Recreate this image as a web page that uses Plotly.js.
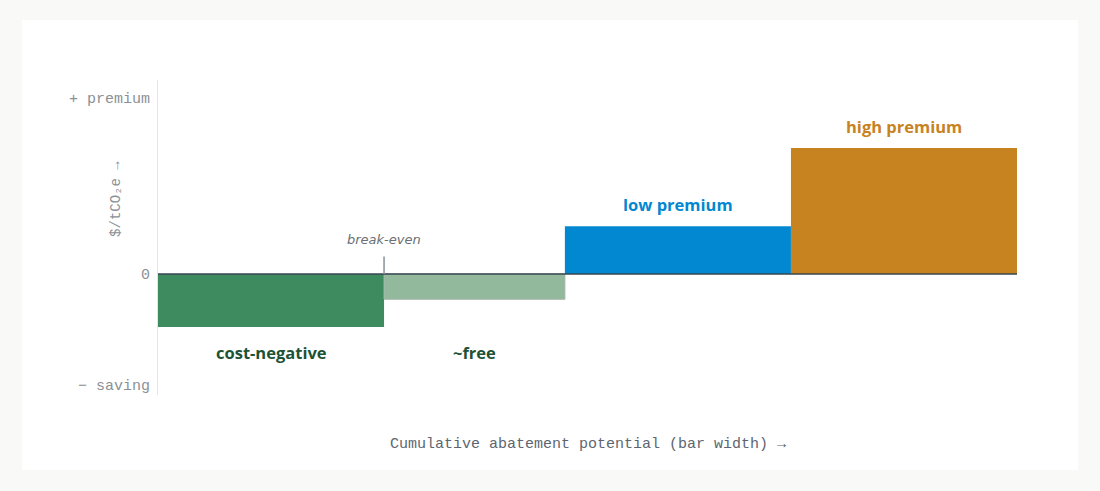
<!DOCTYPE html>
<html>
<head>
<meta charset="utf-8">
<script src="https://cdn.plot.ly/plotly-3.0.1.min.js"></script>
<style>
  html, body { margin: 0; padding: 0; background: #f9f9f7; }
  #card { position: absolute; left: 22px; top: 20px; width: 1056px; height: 450px; background: #ffffff; }
  #chart { position: absolute; left: 0; top: 0; width: 1100px; height: 491px; }
</style>
</head>
<body>
<div id="card"></div>
<div id="chart"></div>
<script>
// abatement cost curve: bar width = potential, height = cost
const categories = ['cost-negative', '~free', 'low premium', 'high premium'];
const widths = [2.5, 2.0, 2.5, 2.5];
const costs = [-21, -10, 19, 50];
const tickVals = [-44, 0, 70];
const tickText = ['− saving', '0', '+ premium'];

const barColors = ['#3e8b5f', '#93b99c', '#0288d1', '#c7831f'];
const labelColors = ['#1d5236', '#1d5236', '#0288d1', '#c7831f'];
const mono = 'Liberation Mono, DejaVu Sans Mono, monospace';
const sans = 'Open Sans, Noto Sans, sans-serif';

// bar centres from cumulative widths
const centers = [];
let acc = 0;
widths.forEach(w => { centers.push(acc + w / 2); acc += w; });
const total = acc;

const data = [{
  type: 'bar',
  x: centers,
  y: costs,
  width: widths,
  marker: {
    color: barColors,
    line: { color: ['#2f6f4a', '#a3b5a8', '#0288d1', '#c7831f'], width: [0, 1, 0, 0] }
  },
  hoverinfo: 'skip'
}];

const annotations = categories.map((c, i) => {
  const neg = costs[i] < 0;
  return {
    x: centers[i], y: neg ? -31 : costs[i], xref: 'x', yref: 'y',
    text: '<b>' + c + '</b>', showarrow: false,
    yanchor: neg ? 'middle' : 'bottom', yshift: neg ? 0 : 8,
    font: { family: sans, size: 16.5, color: labelColors[i] }
  };
});

annotations.push({
  x: widths[0], y: 0, xref: 'x', yref: 'y', text: '<i>break-even</i>',
  showarrow: false, yanchor: 'middle', yshift: 35,
  font: { family: 'DejaVu Sans, sans-serif', size: 13, color: '#6b7075' }
});
annotations.push({
  x: -0.06, y: 30, xref: 'paper', yref: 'y', text: '$/tCO₂e →',
  showarrow: false, textangle: -90,
  font: { family: mono, size: 14, color: '#8b9096' }
});
annotations.push({
  x: 0.5, y: -0.158, xref: 'paper', yref: 'paper',
  text: 'Cumulative abatement potential (bar width) →',
  showarrow: false, yanchor: 'middle',
  font: { family: mono, size: 15, color: '#5d6670' }
});

const layout = {
  width: 1100,
  height: 491,
  margin: { l: 158, r: 83, t: 80, b: 96, pad: 0 },
  paper_bgcolor: 'rgba(0,0,0,0)',
  plot_bgcolor: 'rgba(0,0,0,0)',
  showlegend: false,
  bargap: 0,
  xaxis: {
    range: [0, total], showgrid: false, zeroline: false, showline: false,
    showticklabels: false, ticks: '', fixedrange: true
  },
  yaxis: {
    range: [-48, 77], showgrid: false,
    zeroline: false, showline: true, linecolor: '#e6e6df', linewidth: 1,
    tickvals: tickVals, ticktext: tickText, ticks: '', ticklabelstandoff: 4,
    tickfont: { family: mono, size: 15, color: '#8b9096' }, fixedrange: true
  },
  shapes: [
    // zero line
    { type: 'line', xref: 'x', yref: 'y', x0: 0, x1: total, y0: 0, y1: 0,
      line: { color: '#37474f', width: 1.5 }, layer: 'above' },
    // break-even tick
    { type: 'line', xref: 'x', yref: 'y', x0: widths[0], x1: widths[0], y0: 0, y1: 7,
      line: { color: '#8b9196', width: 1.5 }, layer: 'above' }
  ],
  annotations: annotations
};

Plotly.newPlot('chart', data, layout, { displayModeBar: false, staticPlot: true });
</script>
</body>
</html>
